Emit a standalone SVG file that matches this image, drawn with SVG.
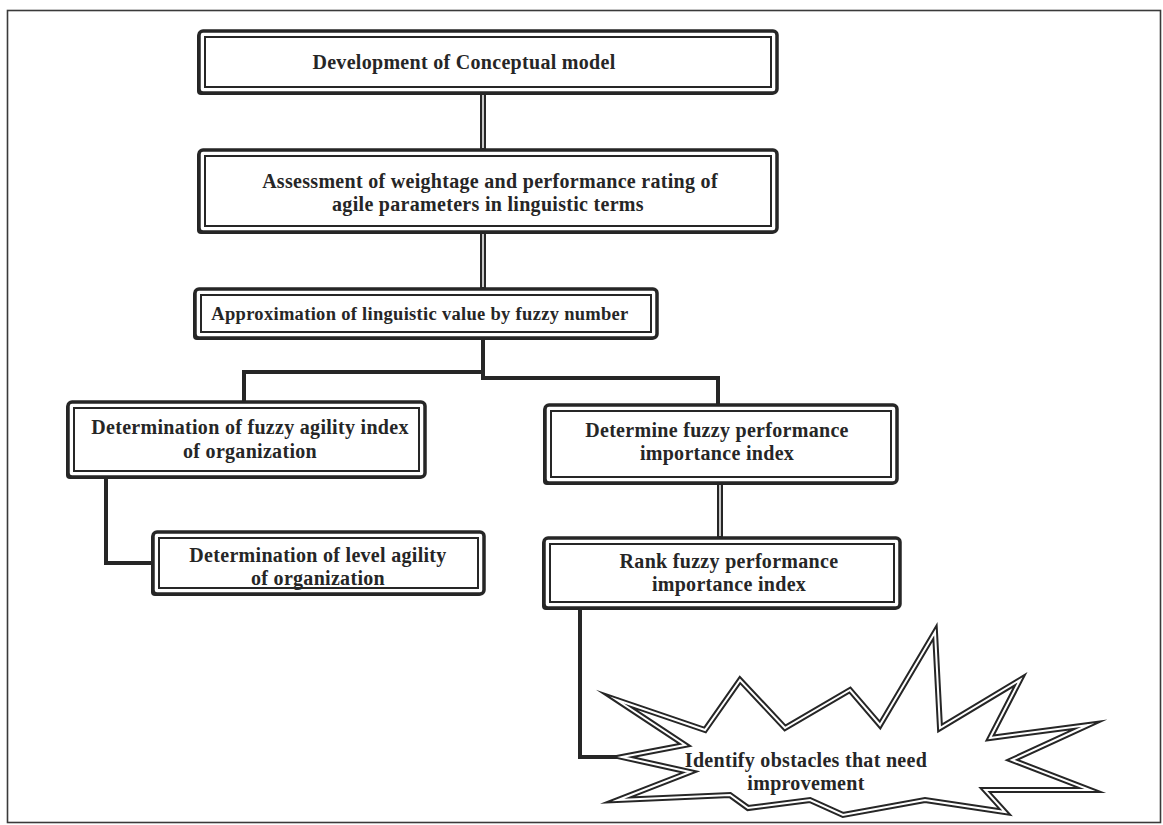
<svg xmlns="http://www.w3.org/2000/svg" width="1163" height="825" viewBox="0 0 1163 825">
  <style>
    .frame { fill: #ffffff; stroke: #3a3a3a; stroke-width: 1.6; }
    .shadow { fill: #262626; }
    .outer { fill: #ffffff; stroke: #262626; stroke-width: 3.5; }
    .inner { fill: none; stroke: #262626; stroke-width: 2; }
    .lbl { font-family: "Liberation Serif", "Times New Roman", serif; font-weight: bold; font-size: 20px; letter-spacing: 0.3px; fill: #262626; text-anchor: middle; }
    .small { font-size: 18.5px; }
    .wire { fill: none; stroke: #262626; stroke-width: 6; stroke-linejoin: miter; }
    .core { fill: none; stroke: #ffffff; stroke-width: 1.5; }
    .solid { fill: none; stroke: #262626; stroke-width: 4; stroke-linejoin: miter; }
    .burst { fill: #ffffff; stroke: #262626; stroke-width: 6; stroke-linejoin: miter; stroke-miterlimit: 20; }
    .burst-gap { fill: none; stroke: #ffffff; stroke-width: 2; stroke-linejoin: miter; stroke-miterlimit: 20; }
  </style>
  <defs>
    <!-- explosion outline: tips alternate with inner notches, clockwise from the left-middle tip -->
    <polygon id="burst-shape" points="622,757 685,745 617,700 705,730 740,680 785,728 850,690 880,725 935,632 940,728 1020,680 990,738 1088,725 1012,760 1090,790 985,790 1005,812 925,800 843,815 810,800 748,808 730,795 618,800 690,772"/>
  </defs>

  <rect class="frame" x="7.5" y="10.5" width="1153" height="812"/>

  <!-- connectors -->
  <g id="connectors">
    <path class="wire" d="M483,93 V150"/>
    <path class="core" d="M483,95 V148"/>
    <path class="wire" d="M483,232 V289"/>
    <path class="core" d="M483,234 V287"/>
    <path class="solid" d="M483,338 V378 H718 V405"/>
    <path class="solid" d="M483,372 H244 V402"/>
    <path class="wire" d="M720,483 V538"/>
    <path class="core" d="M720,485 V536"/>
    <path class="solid" d="M106,477 V563 H153"/>
    <path class="solid" d="M580,608 V757 H622"/>
  </g>

  <g id="node-conceptual-model">
    <rect class="shadow" x="197" y="33" width="578" height="62" rx="4"/>
    <rect class="outer" x="199" y="31" width="578" height="62" rx="4"/>
    <rect class="inner" x="205" y="37" width="566" height="50"/>
    <text class="lbl" x="464" y="69">Development of Conceptual model</text>
  </g>

  <g id="node-assessment">
    <rect class="shadow" x="197" y="152" width="578" height="82" rx="4"/>
    <rect class="outer" x="199" y="150" width="578" height="82" rx="4"/>
    <rect class="inner" x="205" y="156" width="566" height="70"/>
    <text class="lbl" x="490" y="188">Assessment of weightage and performance rating of</text>
    <text class="lbl" x="488" y="211">agile parameters in linguistic terms</text>
  </g>

  <g id="node-approximation">
    <rect class="shadow" x="193" y="291" width="462" height="49" rx="4"/>
    <rect class="outer" x="195" y="289" width="462" height="49" rx="4"/>
    <rect class="inner" x="201" y="295" width="450" height="37"/>
    <text class="lbl small" x="420" y="320">Approximation of linguistic value by fuzzy number</text>
  </g>

  <g id="node-fuzzy-agility-index">
    <rect class="shadow" x="66" y="404" width="357" height="75" rx="4"/>
    <rect class="outer" x="68" y="402" width="357" height="75" rx="4"/>
    <rect class="inner" x="74" y="408" width="345" height="63"/>
    <text class="lbl" x="250" y="434">Determination of fuzzy agility index</text>
    <text class="lbl" x="250" y="458">of organization</text>
  </g>

  <g id="node-level-agility">
    <rect class="shadow" x="151" y="534" width="331" height="62" rx="4"/>
    <rect class="outer" x="153" y="532" width="331" height="62" rx="4"/>
    <rect class="inner" x="159" y="538" width="319" height="50"/>
    <text class="lbl" x="318" y="562">Determination of level agility</text>
    <text class="lbl" x="318" y="585">of organization</text>
  </g>

  <g id="node-performance-index">
    <rect class="shadow" x="543" y="407" width="352" height="78" rx="4"/>
    <rect class="outer" x="545" y="405" width="352" height="78" rx="4"/>
    <rect class="inner" x="551" y="411" width="340" height="66"/>
    <text class="lbl" x="717" y="437">Determine fuzzy performance</text>
    <text class="lbl" x="717" y="460">importance index</text>
  </g>

  <g id="node-rank-index">
    <rect class="shadow" x="542" y="540" width="356" height="70" rx="4"/>
    <rect class="outer" x="544" y="538" width="356" height="70" rx="4"/>
    <rect class="inner" x="550" y="544" width="344" height="58"/>
    <text class="lbl" x="729" y="568">Rank fuzzy performance</text>
    <text class="lbl" x="729" y="591">importance index</text>
  </g>

  <g id="node-obstacles">
    <use href="#burst-shape" class="burst"/>
    <use href="#burst-shape" class="burst-gap"/>
    <text class="lbl" x="806" y="767">Identify obstacles that need</text>
    <text class="lbl" x="806" y="790">improvement</text>
  </g>
</svg>
